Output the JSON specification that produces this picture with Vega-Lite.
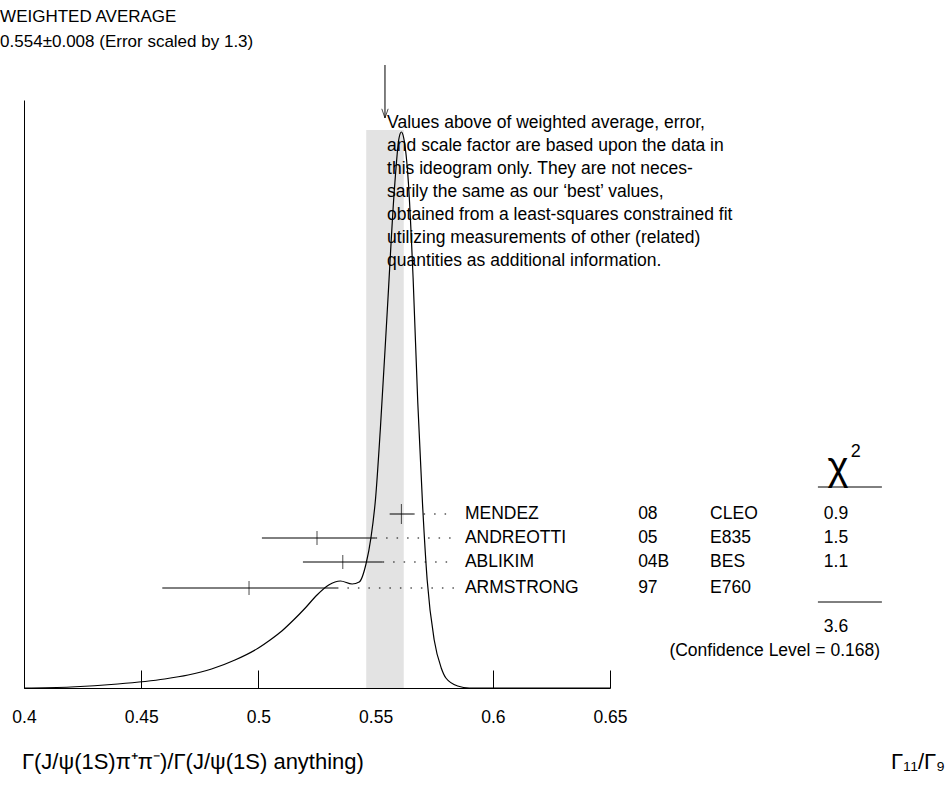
{
  "$schema": "https://vega.github.io/schema/vega-lite/v6.json",
  "width": 586,
  "height": 588,
  "autosize": "none",
  "padding": {"left": 24, "top": 100, "right": 339, "bottom": 104},
  "background": "white",
  "config": {"view": {"stroke": null}, "font": "Liberation Sans"},
  "datasets": {
    "curve": [
      {"x": 0.40, "y": 0}, {"x": 0.42, "y": 1}, {"x": 0.44, "y": 4}, {"x": 0.46, "y": 9},
      {"x": 0.47, "y": 13}, {"x": 0.48, "y": 19}, {"x": 0.49, "y": 28}, {"x": 0.50, "y": 40},
      {"x": 0.505, "y": 48}, {"x": 0.51, "y": 57}, {"x": 0.515, "y": 68}, {"x": 0.52, "y": 80},
      {"x": 0.525, "y": 93}, {"x": 0.53, "y": 103}, {"x": 0.535, "y": 107},
      {"x": 0.54, "y": 104}, {"x": 0.543, "y": 106}, {"x": 0.546, "y": 125}, {"x": 0.548, "y": 150},
      {"x": 0.55, "y": 190}, {"x": 0.552, "y": 258}, {"x": 0.555, "y": 378}, {"x": 0.558, "y": 498},
      {"x": 0.56, "y": 550}, {"x": 0.561, "y": 556}, {"x": 0.562, "y": 550}, {"x": 0.564, "y": 505},
      {"x": 0.566, "y": 410}, {"x": 0.568, "y": 285}, {"x": 0.57, "y": 185}, {"x": 0.572, "y": 108},
      {"x": 0.575, "y": 48}, {"x": 0.578, "y": 20}, {"x": 0.58, "y": 10}, {"x": 0.585, "y": 2},
      {"x": 0.59, "y": 0}, {"x": 0.65, "y": 0}
    ],
    "meas": [
      {"name": "MENDEZ", "year": "08", "exp": "CLEO", "chi2": "0.9", "val": 0.561, "lo": 0.556, "hi": 0.566, "y": 174, "ts": 20},
      {"name": "ANDREOTTI", "year": "05", "exp": "E835", "chi2": "1.5", "val": 0.525, "lo": 0.5015, "hi": 0.55, "y": 150, "ts": 14},
      {"name": "ABLIKIM", "year": "04B", "exp": "BES", "chi2": "1.1", "val": 0.536, "lo": 0.519, "hi": 0.553, "y": 126, "ts": 14},
      {"name": "ARMSTRONG", "year": "97", "exp": "E760", "chi2": "", "val": 0.496, "lo": 0.459, "hi": 0.5335, "y": 100, "ts": 14}
    ],
    "notes": [
      {"x": 0.3898, "y": 671, "t": "WEIGHTED AVERAGE", "a": "left", "s": 17},
      {"x": 0.3898, "y": 646, "t": "0.554±0.008 (Error scaled by 1.3)", "a": "left", "s": 17},
      {"x": 0.5549, "y": 565, "t": "Values above of weighted average, error,", "a": "left", "s": 17.5},
      {"x": 0.5549, "y": 542, "t": "and scale factor are based upon the data in", "a": "left", "s": 17.5},
      {"x": 0.5549, "y": 519, "t": "this ideogram only.  They are not neces-", "a": "left", "s": 17.5},
      {"x": 0.5549, "y": 496, "t": "sarily the same as our ‘best’ values,", "a": "left", "s": 17.5},
      {"x": 0.5549, "y": 473, "t": "obtained from a least-squares constrained fit", "a": "left", "s": 17.5},
      {"x": 0.5549, "y": 450, "t": "utilizing measurements of other (related)", "a": "left", "s": 17.5},
      {"x": 0.5549, "y": 427, "t": "quantities as additional information.", "a": "left", "s": 17.5},
      {"x": 0.7473, "y": 220, "t": "χ", "a": "center", "s": 40},
      {"x": 0.7527, "y": 236, "t": "2", "a": "left", "s": 18},
      {"x": 0.7464, "y": 61, "t": "3.6", "a": "center", "s": 17.5},
      {"x": 0.7652, "y": 37, "t": "(Confidence Level = 0.168)", "a": "right", "s": 17.5},
      {"x": 0.3991, "y": -74, "t": "Γ(J/ψ(1S)π⁺π⁻)/Γ(J/ψ(1S) anything)", "a": "left", "s": 22},
      {"x": 0.7929, "y": -74, "t": "Γ₁₁/Γ₉", "a": "right", "s": 22}
    ],
    "hlines": [
      {"x": 0.7387, "x2": 0.766, "y": 201},
      {"x": 0.7387, "x2": 0.766, "y": 86}
    ]
  },
  "encoding": {
    "x": {"type": "quantitative", "scale": {"domain": [0.4, 0.65], "clamp": false, "nice": false, "zero": false}},
    "y": {"type": "quantitative", "scale": {"domain": [0, 588], "nice": false, "zero": false}}
  },
  "layer": [
    {
      "data": {"values": [{"x": 0.546, "x2": 0.562}]},
      "mark": {"type": "rect", "color": "#e3e3e3"},
      "encoding": {
        "x": {"field": "x", "type": "quantitative", "axis": {"values": [0.4, 0.45, 0.5, 0.55, 0.6, 0.65], "format": "~g", "title": null, "tickSize": -18, "tickColor": "black", "domainColor": "black", "labelFontSize": 17.5, "labelColor": "black", "labelPadding": 38, "grid": false, "labelFlush": false}},
        "x2": {"field": "x2"},
        "y": {"datum": 0, "type": "quantitative", "axis": {"title": null, "labels": false, "ticks": false, "grid": false, "domainColor": "black"}},
        "y2": {"datum": 558}
      }
    },
    {
      "data": {"name": "curve"},
      "mark": {"type": "line", "color": "black", "strokeWidth": 1.2, "interpolate": "monotone"},
      "encoding": {"x": {"field": "x"}, "y": {"field": "y"}}
    },
    {
      "data": {"name": "meas"},
      "mark": {"type": "rule", "color": "black", "strokeWidth": 1},
      "encoding": {"x": {"field": "lo"}, "x2": {"field": "hi"}, "y": {"field": "y"}}
    },
    {
      "data": {"name": "meas"},
      "mark": {"type": "rule", "color": "black", "strokeWidth": 1.2, "strokeDash": [1.5, 9]},
      "encoding": {"x": {"field": "hi"}, "x2": {"datum": 0.5839}, "y": {"field": "y"}}
    },
    {
      "data": {"name": "meas"},
      "mark": {"type": "tick", "orient": "vertical", "color": "black", "thickness": 1},
      "encoding": {"x": {"field": "val"}, "y": {"field": "y"}, "size": {"field": "ts", "type": "quantitative", "scale": null}}
    },
    {
      "data": {"name": "meas"},
      "mark": {"type": "text", "align": "left", "baseline": "middle", "fontSize": 17.5, "color": "black"},
      "encoding": {"x": {"datum": 0.5881}, "y": {"field": "y"}, "text": {"field": "name"}}
    },
    {
      "data": {"name": "meas"},
      "mark": {"type": "text", "align": "left", "baseline": "middle", "fontSize": 17.5, "color": "black"},
      "encoding": {"x": {"datum": 0.662}, "y": {"field": "y"}, "text": {"field": "year"}}
    },
    {
      "data": {"name": "meas"},
      "mark": {"type": "text", "align": "left", "baseline": "middle", "fontSize": 17.5, "color": "black"},
      "encoding": {"x": {"datum": 0.6927}, "y": {"field": "y"}, "text": {"field": "exp"}}
    },
    {
      "data": {"name": "meas"},
      "mark": {"type": "text", "align": "center", "baseline": "middle", "fontSize": 17.5, "color": "black"},
      "encoding": {"x": {"datum": 0.7464}, "y": {"field": "y"}, "text": {"field": "chi2"}}
    },
    {
      "data": {"name": "notes"},
      "transform": [{"filter": "datum.a == 'left'"}],
      "mark": {"type": "text", "align": "left", "baseline": "middle", "color": "black"},
      "encoding": {"x": {"field": "x"}, "y": {"field": "y"}, "text": {"field": "t"}, "size": {"field": "s", "type": "quantitative", "scale": null}}
    },
    {
      "data": {"name": "notes"},
      "transform": [{"filter": "datum.a == 'center'"}],
      "mark": {"type": "text", "align": "center", "baseline": "middle", "color": "black"},
      "encoding": {"x": {"field": "x"}, "y": {"field": "y"}, "text": {"field": "t"}, "size": {"field": "s", "type": "quantitative", "scale": null}}
    },
    {
      "data": {"name": "notes"},
      "transform": [{"filter": "datum.a == 'right'"}],
      "mark": {"type": "text", "align": "right", "baseline": "middle", "color": "black"},
      "encoding": {"x": {"field": "x"}, "y": {"field": "y"}, "text": {"field": "t"}, "size": {"field": "s", "type": "quantitative", "scale": null}}
    },
    {
      "data": {"name": "hlines"},
      "mark": {"type": "rule", "color": "black", "strokeWidth": 1},
      "encoding": {"x": {"field": "x"}, "x2": {"field": "x2"}, "y": {"field": "y"}}
    },
    {
      "data": {"values": [{"x": 0.554, "y": 623, "y2": 570}]},
      "mark": {"type": "rule", "color": "black", "strokeWidth": 1},
      "encoding": {"x": {"field": "x"}, "y": {"field": "y"}, "y2": {"field": "y2"}}
    },
    {
      "data": {"values": [{"x": 0.554, "y": 570}]},
      "mark": {"type": "point", "shape": "M-0.45,-1.3L0,0L0.45,-1.3", "filled": false, "color": "black", "strokeWidth": 1, "size": 200},
      "encoding": {"x": {"field": "x"}, "y": {"field": "y"}}
    }
  ]
}
